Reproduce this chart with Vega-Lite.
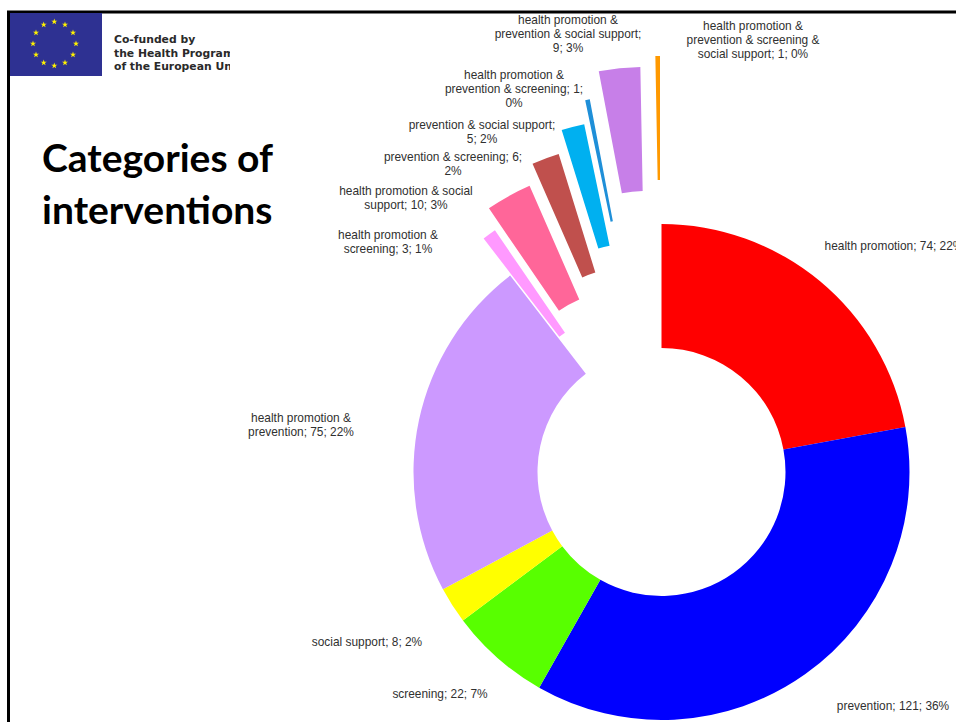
{
"$schema":"https://vega.github.io/schema/vega-lite/v6.json",
"width":956,"height":722,"padding":0,"autosize":{"type":"none"},
"background":"white",
"view":{"stroke":null},
"datasets":{
"slices":[
{"order":1,"category":"health promotion","value":74,"cx":661.5,"cy":472},
{"order":2,"category":"prevention","value":121,"cx":661.5,"cy":472},
{"order":3,"category":"screening","value":22,"cx":661.5,"cy":472},
{"order":4,"category":"social support","value":8,"cx":661.5,"cy":472},
{"order":5,"category":"health promotion & prevention","value":75,"cx":661.5,"cy":472},
{"order":6,"category":"health promotion & screening","value":3,"cx":635,"cy":435},
{"order":7,"category":"health promotion & social support","value":10,"cx":629,"cy":413},
{"order":8,"category":"prevention & screening","value":6,"cx":632,"cy":391},
{"order":9,"category":"prevention & social support","value":5,"cx":635,"cy":367},
{"order":10,"category":"health promotion & prevention & screening","value":1,"cx":636,"cy":343},
{"order":11,"category":"health promotion & prevention & social support","value":9,"cx":645,"cy":315},
{"order":12,"category":"health promotion & prevention & screening & social support","value":1,"cx":660,"cy":304}
],
"labels":[
{"t":"health promotion &\nprevention & social support;\n9; 3%","x":568,"y":15},
{"t":"health promotion &\nprevention & screening &\nsocial support; 1; 0%","x":753,"y":21},
{"t":"health promotion &\nprevention & screening; 1;\n0%","x":514,"y":70},
{"t":"prevention & social support;\n5; 2%","x":482,"y":120},
{"t":"prevention & screening; 6;\n2%","x":453,"y":152},
{"t":"health promotion & social\nsupport; 10; 3%","x":406,"y":186},
{"t":"health promotion &\nscreening; 3; 1%","x":388,"y":230},
{"t":"health promotion; 74; 22%","x":894,"y":241},
{"t":"health promotion &\nprevention; 75; 22%","x":301,"y":413},
{"t":"social support; 8; 2%","x":367,"y":637},
{"t":"screening; 22; 7%","x":440,"y":689},
{"t":"prevention; 121; 36%","x":893,"y":701}
],
"stars":[
{"x":54.3,"y":21.7},{"x":65,"y":24.7},{"x":73,"y":32.7},{"x":76,"y":43.7},{"x":73,"y":54.7},{"x":65,"y":62.7},
{"x":54.3,"y":65.7},{"x":43.7,"y":62.7},{"x":36,"y":54.7},{"x":33,"y":43.7},{"x":36,"y":32.7},{"x":43.7,"y":24.7}
]
},
"layer":[
{"data":{"values":[{"x":7,"x2":956,"y":12,"y2":12},{"x":8.5,"x2":8.5,"y":12,"y2":722}]},
 "mark":{"type":"rule","color":"#000000","strokeWidth":3},
 "encoding":{
  "x":{"field":"x","type":"quantitative","scale":{"domain":[0,956],"nice":false,"zero":false},"axis":null},
  "x2":{"field":"x2"},
  "y":{"field":"y","type":"quantitative","scale":{"domain":[722,0],"nice":false,"zero":false},"axis":null},
  "y2":{"field":"y2"}}},
{"data":{"values":[{"x":10,"x2":102,"y":13,"y2":76}]},
 "mark":{"type":"rect","color":"#2E3192"},
 "encoding":{"x":{"field":"x","type":"quantitative"},"x2":{"field":"x2"},"y":{"field":"y","type":"quantitative"},"y2":{"field":"y2"}}},
{"data":{"name":"stars"},
 "mark":{"type":"point","filled":true,"color":"#FFF200","opacity":1,"size":42,"shape":"M0,-1L0.225,-0.31L0.95,-0.31L0.36,0.12L0.59,0.81L0,0.38L-0.59,0.81L-0.36,0.12L-0.95,-0.31L-0.225,-0.31Z"},
 "encoding":{"x":{"field":"x","type":"quantitative"},"y":{"field":"y","type":"quantitative"}}},
{"data":{"values":[{"t":"Co-funded by\nthe Health Programme\nof the European Union","x":114,"y":34}]},
 "mark":{"type":"text","lineBreak":"\n","align":"left","baseline":"top","font":"DejaVu Sans","fontSize":10.8,"fontWeight":"bold","lineHeight":13.5,"color":"#2a2a2a"},
 "encoding":{"x":{"field":"x","type":"quantitative"},"y":{"field":"y","type":"quantitative"},"text":{"field":"t"}}},
{"data":{"values":[{"x":230,"x2":330,"y":25,"y2":80}]},
 "mark":{"type":"rect","color":"#ffffff"},
 "encoding":{"x":{"field":"x","type":"quantitative"},"x2":{"field":"x2"},"y":{"field":"y","type":"quantitative"},"y2":{"field":"y2"}}},
{"data":{"values":[{"t":"Categories of\ninterventions","x":42,"y":141}]},
 "mark":{"type":"text","lineBreak":"\n","align":"left","baseline":"top","font":"Lato","fontSize":39,"fontWeight":"bold","lineHeight":52,"color":"#000000"},
 "encoding":{"x":{"field":"x","type":"quantitative"},"y":{"field":"y","type":"quantitative"},"text":{"field":"t"}}},
{"data":{"name":"slices"},
 "transform":[{"stack":"value","groupby":[],"sort":[{"field":"order","order":"ascending"}],"as":["v0","v1"]}],
 "mark":{"type":"arc","innerRadius":124,"outerRadius":248},
 "encoding":{
  "x":{"field":"cx","type":"quantitative"},
  "y":{"field":"cy","type":"quantitative"},
  "theta":{"field":"v0","type":"quantitative","scale":{"domain":[0,335],"range":[0,6.283185307]}},
  "theta2":{"field":"v1"},
  "color":{"field":"category","type":"nominal","legend":null,"scale":{
   "domain":["health promotion","prevention","screening","social support","health promotion & prevention","health promotion & screening","health promotion & social support","prevention & screening","prevention & social support","health promotion & prevention & screening","health promotion & prevention & social support","health promotion & prevention & screening & social support"],
   "range":["#FF0000","#0000FF","#58FF00","#FFFF00","#CC99FF","#FF99FF","#FF6699","#C0504D","#00B0F0","#1F8FD8","#C77FE8","#FF9900"]}}}},
{"data":{"name":"labels"},
 "mark":{"type":"text","lineBreak":"\n","align":"center","baseline":"top","font":"Liberation Sans","fontSize":11.9,"lineHeight":14,"color":"#303030"},
 "encoding":{"x":{"field":"x","type":"quantitative"},"y":{"field":"y","type":"quantitative"},"text":{"field":"t"}}}
]
}
